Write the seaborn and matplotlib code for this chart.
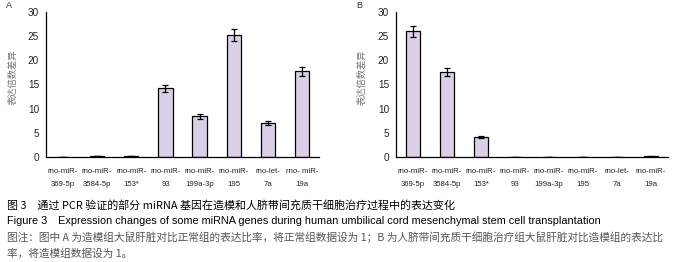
import matplotlib
matplotlib.use("Agg")
import matplotlib.pyplot as plt
import seaborn as sns
import pandas as pd
import numpy as np

sns.set_style("white")
plt.rcParams['font.family'] = ['Liberation Sans', 'Noto Sans CJK SC', 'DejaVu Sans']

# ---- data ----
labels_a = ["rno-miR-\n369-5p", "rno-miR-\n3584-5p", "rno-miR-\n153*", "rno-miR-\n93",
            "rno-miR-\n199a-3p", "rno-miR-\n195", "rno-let-\n7a", "rno- miR-\n19a"]
labels_b = ["rno-miR-\n369-5p", "rno-miR-\n3584-5p", "rno-miR-\n153*", "rno-miR-\n93",
            "rno-miR-\n199a-3p", "rno-miR-\n195", "rno-let-\n7a", "rno-miR-\n19a"]
values_a = [0.05, 0.2, 0.2, 14.2, 8.4, 25.3, 7.0, 17.7]
errors_a = [0.0, 0.0, 0.0, 0.7, 0.5, 1.2, 0.4, 1.0]
values_b = [26.0, 17.6, 4.2, 0.1, 0.1, 0.1, 0.1, 0.2]
errors_b = [1.2, 0.8, 0.2, 0.0, 0.0, 0.0, 0.0, 0.1]
yticks = [0, 5, 10, 15, 20, 25, 30]
ylabel = "表达倍数差异"

bar_color = "#D9CFE7"
W, H = 676, 262
fig = plt.figure(figsize=(W / 100, H / 100), dpi=100)


def fx(px):
    return px / W


def fy(py):
    return 1 - py / H


def panel(left, right, labels, values, errors, letter, letter_x):
    ax = fig.add_axes([fx(left), fy(157), fx(right - left), fy(12) - fy(157)])
    df = pd.DataFrame({"cat": labels, "val": values})
    sns.barplot(data=df, x="cat", y="val", ax=ax, color=bar_color, width=0.42,
                edgecolor="black", linewidth=0.9, saturation=1, errorbar=None)
    pos = np.arange(len(labels))
    ax.errorbar(pos, values, yerr=errors, fmt="none", ecolor="black",
                elinewidth=0.9, capsize=2.2, capthick=0.9)
    ax.set_xlim(-0.5, len(labels) - 0.5)
    ax.set_ylim(0, 30)
    ax.set_yticks(yticks)
    ax.set_yticklabels([str(t) for t in yticks], fontsize=7.2, color="#222222")
    ax.set_xticks(pos)
    ax.set_xticklabels(labels, fontsize=5.6, color="#222222", linespacing=2.1)
    ax.set_xticks(np.arange(-0.5, len(labels) + 0.5, 1), minor=True)
    ax.tick_params(axis="x", which="major", length=0, pad=8)
    ax.tick_params(axis="x", which="minor", length=3, width=0.8, direction="out", color="black")
    ax.tick_params(axis="y", which="major", length=3, width=0.8, direction="out", color="black", pad=2)
    ax.set_xlabel("")
    ax.set_ylabel("")
    for s in ["top", "right"]:
        ax.spines[s].set_visible(False)
    for s in ["left", "bottom"]:
        ax.spines[s].set_color("black")
        ax.spines[s].set_linewidth(0.9)
    fig.text(fx(letter_x), fy(6), letter, fontsize=6.5, ha="center", va="center", color="#333333")
    return ax


panel(46, 319, labels_a, values_a, errors_a, "A", 9)
panel(396, 668, labels_b, values_b, errors_b, "B", 359)

for x in (13, 362):
    fig.text(fx(x), fy(77), ylabel, rotation=90, fontsize=6.7, color="#777777",
             ha="center", va="center", family=['Noto Sans CJK SC', 'DejaVu Sans'])

fig.text(fx(7), fy(205), "图 3　通过 PCR 验证的部分 miRNA 基因在造模和人脐带间充质干细胞治疗过程中的表达变化",
         fontsize=7.9, color="black", ha="left", va="center",
         family=['Noto Sans CJK SC', 'DejaVu Sans'])
fig.text(fx(7), fy(221), "Figure 3　Expression changes of some miRNA genes during human umbilical cord mesenchymal stem cell transplantation",
         fontsize=7.85, color="black", ha="left", va="center",
         family=['Liberation Sans', 'Noto Sans CJK SC', 'DejaVu Sans'])
fig.text(fx(7), fy(237), "图注：图中 A 为造模组大鼠肝脏对比正常组的表达比率，将正常组数据设为 1；B 为人脐带间充质干细胞治疗组大鼠肝脏对比造模组的表达比",
         fontsize=7.7, color="#555555", ha="left", va="center",
         family=['Noto Sans CJK SC', 'DejaVu Sans'])
fig.text(fx(7), fy(253), "率，将造模组数据设为 1。",
         fontsize=7.7, color="#555555", ha="left", va="center",
         family=['Noto Sans CJK SC', 'DejaVu Sans'])

fig.savefig("out.png", dpi=100, facecolor="white")
